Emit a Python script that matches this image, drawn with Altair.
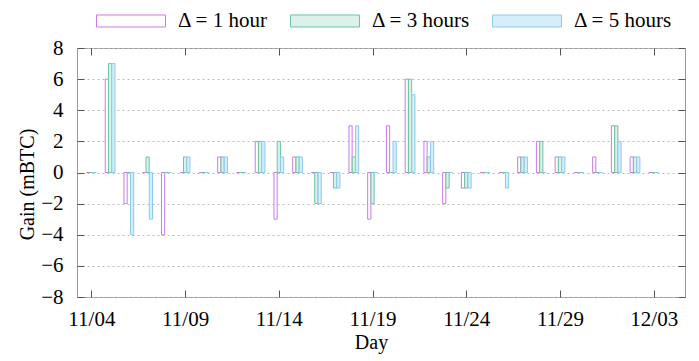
import altair as alt
import pandas as pd

# ---- data ----
tick_days = [0, 5, 10, 15, 20, 25, 30]
day_labels = ["11/04", "11/09", "11/14", "11/19", "11/24", "11/29", "12/03"]
series = ["Δ = 1 hour", "Δ = 3 hours", "Δ = 5 hours"]

gain_1h = [0, 6, -2, 0, -4, 0, 0, 1, 0, 2, -3, 1, 0, 0, 3, -3, 3, 6, 2, -2, -1,
           0, 0, 1, 2, 1, 0, 1, 3, 1, 0]
gain_3h = [0, 7, 0, 1, 0, 1, 0, 1, 0, 2, 2, 1, -2, -1, 1, -2, 0, 6, 1, -1, -1,
           0, 0, 1, 2, 1, 0, 0, 3, 1, 0]
gain_5h = [0, 7, -4, -3, 0, 1, 0, 1, 0, 2, 1, 1, -2, -1, 3, 0, 2, 5, 2, 0, -1,
           0, -1, 1, 0, 1, 0, 0, 2, 1, 0]

stroke_colors = ["#c87ae8", "#6cc5a5", "#8ccbee"]
fill_colors = ["#ffffff", "#dcf1e9", "#d6edfa"]

rows = []
for k, (name, vals) in enumerate(zip(series, [gain_1h, gain_3h, gain_5h])):
    for d, v in enumerate(vals):
        rows.append({"day": d, "series": name, "k": k, "gain": v})
df = pd.DataFrame(rows)

FONT = "Liberation Serif"
label_expr = "[" + ",".join(f"'{l}'" for l in day_labels) + "][round(datum.value / 5)]"

xscale = alt.Scale(domain=[-0.5, 31.4], nice=False, zero=False)
yscale = alt.Scale(domain=[-8, 8], nice=False, zero=False)
yvals = list(range(-8, 9, 2))

legend = alt.Legend(
    title=None, orient="none", legendX=19, legendY=-62, direction="horizontal",
    columns=3, columnPadding=19, labelOffset=12,
    symbolType="M-1,-0.174H1V0.174H-1Z", symbolSize=4761, symbolStrokeWidth=1,
    labelFont=FONT, labelFontSize=21, labelColor="#000", padding=0,
)

base = alt.Chart(df).transform_calculate(xpos="datum.day + (datum.k - 1) * 0.175")

bars = base.mark_bar(width=3.2, strokeWidth=1, fillOpacity=1).encode(
    x=alt.X("xpos:Q", scale=xscale, axis=alt.Axis(
        orient="bottom", values=tick_days, labelExpr=label_expr, title="Day",
        grid=False, domain=False, tickSize=7, offset=-7, tickColor="#555",
        labelPadding=11, labelFont=FONT, labelFontSize=21, labelColor="#000",
        titleFont=FONT, titleFontSize=20, titleFontWeight="normal", titleColor="#000",
        titleX=294, titlePadding=3, labelFlush=False)),
    y=alt.Y("gain:Q", scale=yscale, axis=alt.Axis(
        orient="left", values=yvals, title="Gain (mBTC)", grid=True,
        gridDash=[2, 3], gridColor="#bbbbbb", domain=False, tickSize=7, offset=-7,
        tickColor="#555", labelPadding=14, labelFont=FONT, labelFontSize=21,
        labelColor="#000", titleFont=FONT, titleFontSize=20, titleFontWeight="normal",
        titleColor="#000", titleX=-57, titleY=136, titleAngle=-90,
        titleAlign="center", titleBaseline="middle", labelFlush=False)),
    stroke=alt.Stroke("series:N", scale=alt.Scale(domain=series, range=stroke_colors), legend=legend),
    fill=alt.Fill("series:N", scale=alt.Scale(domain=series, range=fill_colors), legend=legend),
)

mirror = base.mark_point(opacity=0).encode(
    x=alt.X("xpos:Q", scale=xscale, axis=alt.Axis(
        orient="top", values=tick_days, labels=False, title=None, grid=False,
        domain=False, tickSize=7, offset=-7, tickColor="#555")),
    y=alt.Y("gain:Q", scale=yscale, axis=alt.Axis(
        orient="right", values=yvals, labels=False, title=None, grid=False,
        domain=False, tickSize=7, offset=-7, tickColor="#555")),
)

chart = alt.layer(bars, mirror).resolve_axis(x="independent", y="independent").properties(
    width=608, height=249,
    autosize=alt.AutoSizeParams(type="none"),
    padding={"left": 77, "top": 48, "right": 14, "bottom": 64},
).configure(
    background="white", font=FONT
).configure_view(stroke="#999999", strokeWidth=1)

chart.save("out.html", embed_options={"renderer": "svg", "actions": False})
